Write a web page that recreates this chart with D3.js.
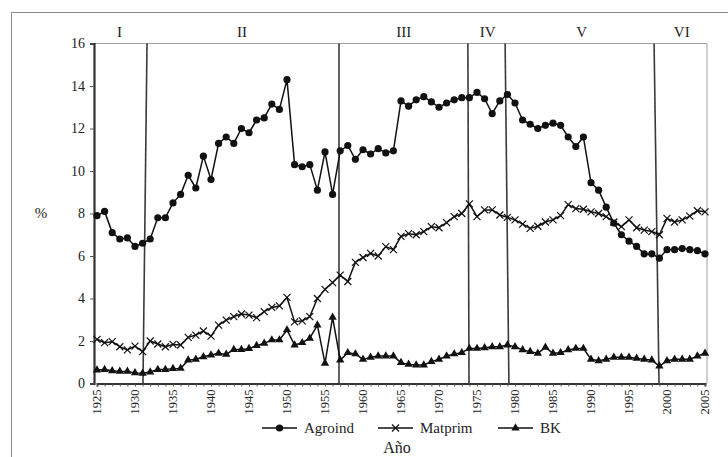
<!DOCTYPE html>
<html>
<head>
<meta charset="utf-8">
<script src="https://cdn.jsdelivr.net/npm/d3@7"></script>
<style>
  body { margin: 0; background: #fff; }
  svg { display: block; }
  svg text { font-family: "Liberation Serif", "Times New Roman", serif !important; }
</style>
</head>
<body>
<div id="container"></div>
<script>
const years = d3.range(1925, 2006);

const agroind = [
  7.9, 8.1, 7.1, 6.8, 6.85, 6.45, 6.6, 6.8, 7.8, 7.8,
  8.5, 8.9, 9.8, 9.2, 10.7, 9.6, 11.3, 11.6, 11.3, 12.0,
  11.8, 12.4, 12.5, 13.15, 12.9, 14.3, 10.3, 10.2, 10.3, 9.1,
  10.9, 8.9, 10.95, 11.2, 10.55, 11.0, 10.8, 11.05, 10.85, 10.95,
  13.3, 13.05, 13.35, 13.5, 13.25, 13.0, 13.2, 13.35, 13.45, 13.45,
  13.7, 13.4, 12.7, 13.3, 13.6, 13.2, 12.4, 12.2, 12.0, 12.15,
  12.25, 12.15, 11.6, 11.15, 11.6, 9.45, 9.1, 8.3, 7.55, 7.0,
  6.7, 6.45, 6.1, 6.1, 5.9, 6.3, 6.3, 6.35, 6.3, 6.25,
  6.1
];

const matprim = [
  2.08, 1.92, 1.97, 1.73, 1.58, 1.76, 1.5, 2.0, 1.86, 1.73,
  1.84, 1.81, 2.17, 2.28, 2.47, 2.23, 2.75, 2.98, 3.15, 3.27,
  3.22, 3.1, 3.38, 3.58, 3.65, 4.05, 2.9, 2.95, 3.15, 4.0,
  4.43, 4.75, 5.1, 4.8, 5.7, 5.93, 6.12, 6.0, 6.44, 6.3,
  6.92, 7.05, 7.0, 7.15, 7.38, 7.33, 7.57, 7.85, 8.0, 8.45,
  7.85, 8.17, 8.17, 7.93, 7.82, 7.7, 7.5, 7.3, 7.4, 7.6,
  7.7, 7.9, 8.42, 8.23, 8.2, 8.08, 8.0, 7.85, 7.6, 7.38,
  7.7, 7.33, 7.22, 7.15, 7.0, 7.77, 7.6, 7.7, 7.88, 8.13,
  8.08
];

const bk = [
  0.63, 0.66, 0.6, 0.57, 0.57, 0.5, 0.48, 0.54, 0.66, 0.66,
  0.7, 0.71, 1.1, 1.14, 1.26, 1.34, 1.42, 1.37, 1.6, 1.6,
  1.64, 1.78, 1.89, 2.05, 2.05, 2.52, 1.81, 1.92, 2.13, 2.75,
  0.95, 3.11, 1.1, 1.45, 1.39, 1.14, 1.23, 1.29, 1.29, 1.29,
  0.98, 0.9, 0.87, 0.87, 1.03, 1.14, 1.29, 1.39, 1.45, 1.65,
  1.65, 1.68, 1.73, 1.73, 1.81, 1.73, 1.58, 1.5, 1.42, 1.7,
  1.42, 1.45, 1.58, 1.65, 1.65, 1.14, 1.07, 1.14, 1.23, 1.23,
  1.23, 1.18, 1.14, 1.1, 0.82, 1.07, 1.14, 1.14, 1.14, 1.29,
  1.42
];

const seriesNames = ["Agroind", "Matprim", "BK"];
const yTicks = [0, 2, 4, 6, 8, 10, 12, 14, 16];
const xTickLabels = d3.range(1925, 2006, 5);

// period dividers: year at top of plot, year at bottom (the lines lean a little)
const periodTop = [1931.58, 1956.84, 1973.8, 1978.7, 1998.3];
const periodBottom = [1931.05, 1956.84, 1973.95, 1979.2, 1998.95];
const periodLabels = ["I", "II", "III", "IV", "V", "VI"];

const width = 728;
const height = 457;
const plotLeft = 94, plotRight = 707, plotTop = 43.5, plotBottom = 383.5;

const x = d3.scaleLinear().domain([1925, 2005]).range([97, 705]);
const y = d3.scaleLinear().domain([0, 16]).range([plotBottom, plotTop]);

const svg = d3.create("svg")
  .attr("width", width)
  .attr("height", height)
  .attr("viewBox", [0, 0, width, height]);

// outer frame (top and left only, the rest falls outside the picture)
svg.append("path")
  .attr("fill", "none")
  .attr("stroke", "#8a8a8a")
  .attr("stroke-width", 1)
  .attr("d", `M11.5,${height}V12.5H${width}`);

// plot box top and right
svg.append("path")
  .attr("fill", "none")
  .attr("stroke", "#a0a0a0")
  .attr("stroke-width", 1)
  .attr("d", `M${plotLeft},${plotTop}H${plotRight}V${plotBottom}`);

// period dividers
svg.append("g")
  .selectAll("line")
  .data(periodTop)
  .join("line")
  .attr("x1", (d) => x(d))
  .attr("y1", plotTop)
  .attr("x2", (d, i) => x(periodBottom[i]))
  .attr("y2", plotBottom)
  .attr("stroke", "#3a3a3a")
  .attr("stroke-width", 1.6);

// period labels, centred between dividers
const edges = [plotLeft, ...periodTop.map((d, i) => (x(d) + x(periodBottom[i])) / 2), plotRight];
svg.append("g")
  .selectAll("text")
  .data(periodLabels)
  .join("text")
  .attr("x", (d, i) => (edges[i] + edges[i + 1]) / 2)
  .attr("y", 37)
  .attr("text-anchor", "middle")
  .attr("font-size", 15)
  .attr("fill", "#222")
  .text((d) => d);

// y axis
const yAxis = svg.append("g")
  .attr("transform", `translate(${plotLeft},0)`)
  .call(d3.axisLeft(y).tickValues(yTicks).tickSize(4).tickPadding(5));
yAxis.select(".domain").attr("stroke", "#333").attr("stroke-width", 2.2);
yAxis.selectAll(".tick line").attr("stroke", "#555");
yAxis.selectAll("text")
  .attr("font-size", 14)
  .attr("fill", "#222");

// x axis: small ticks every year, labels every 5
const xAxis = svg.append("g")
  .attr("transform", `translate(0,${plotBottom})`)
  .call(d3.axisBottom(x).tickValues(years).tickSize(3).tickFormat(""));
xAxis.select(".domain").attr("stroke", "#333").attr("stroke-width", 2);
xAxis.selectAll(".tick line").attr("stroke", "#555");

svg.append("g")
  .selectAll("text")
  .data(xTickLabels)
  .join("text")
  .attr("transform", (d) => `translate(${x(d) + 4},${plotBottom + 6}) rotate(-90)`)
  .attr("text-anchor", "end")
  .attr("font-size", 12.5)
  .attr("fill", "#222")
  .text((d) => d);

// lines
const seriesData = [agroind, matprim, bk];
const line = d3.line()
  .x((d, i) => x(years[i]))
  .y((d) => y(d));

svg.append("g")
  .selectAll("path")
  .data(seriesData)
  .join("path")
  .attr("fill", "none")
  .attr("stroke", "#111")
  .attr("stroke-width", 1.5)
  .attr("stroke-linejoin", "round")
  .attr("d", line);

const tri = d3.symbol().type(d3.symbolTriangle).size(30);

function drawMarker(g, kind) {
  if (kind === 0) {
    g.append("circle").attr("r", 3.6).attr("fill", "#111");
  } else if (kind === 1) {
    g.append("path")
      .attr("d", "M-3.5,-3.5L3.5,3.5M-3.5,3.5L3.5,-3.5")
      .attr("stroke", "#111")
      .attr("stroke-width", 1.2)
      .attr("fill", "none");
  } else {
    g.append("path").attr("d", tri).attr("fill", "#111");
  }
}

seriesData.forEach((vals, k) => {
  const g = svg.append("g");
  vals.forEach((v, i) => {
    const m = g.append("g").attr("transform", `translate(${x(years[i])},${y(v)})`);
    drawMarker(m, k);
  });
});

// axis titles
svg.append("text")
  .attr("x", 41)
  .attr("y", 218)
  .attr("text-anchor", "middle")
  .attr("font-size", 15)
  .attr("fill", "#222")
  .text("%");

svg.append("text")
  .attr("x", 397)
  .attr("y", 453)
  .attr("text-anchor", "middle")
  .attr("font-size", 16)
  .attr("fill", "#222")
  .text("Año");

// legend
const legendX = [262, 378, 498];
const legend = svg.append("g");
seriesNames.forEach((name, k) => {
  const lg = legend.append("g").attr("transform", `translate(${legendX[k]},428)`);
  lg.append("line")
    .attr("x1", 0).attr("x2", 35)
    .attr("stroke", "#111")
    .attr("stroke-width", 1.6);
  drawMarker(lg.append("g").attr("transform", "translate(17.5,0)"), k);
  lg.append("text")
    .attr("x", 42)
    .attr("y", 5)
    .attr("font-size", 15)
    .attr("fill", "#222")
    .text(name);
});

container.append(svg.node());
</script>
</body>
</html>
